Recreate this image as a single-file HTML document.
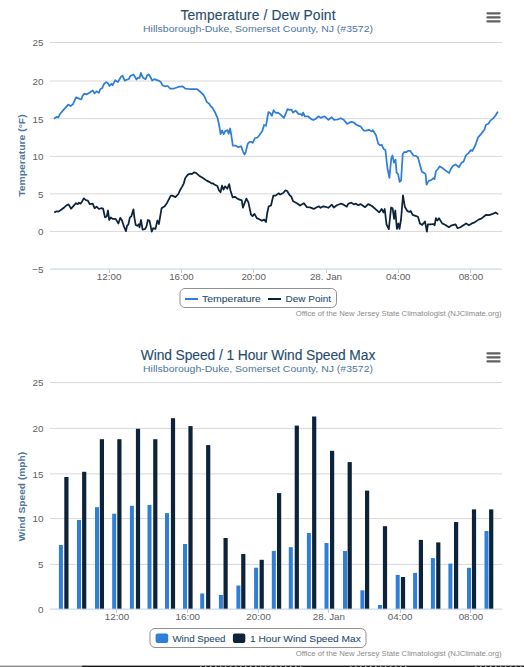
<!DOCTYPE html>
<html><head><meta charset="utf-8"><title>Charts</title>
<style>html,body{margin:0;padding:0;background:#fff;width:524px;height:667px;overflow:hidden}</style>
</head><body>
<svg width="524" height="667" viewBox="0 0 524 667" style="position:absolute;left:0;top:0;font-family:'Liberation Sans', sans-serif"><rect x="0" y="0" width="524" height="667" fill="#fff"/><text x="258" y="19.9" text-anchor="middle" font-size="13.8" fill="#274b6d" stroke="#274b6d" stroke-width="0.12" textLength="155" lengthAdjust="spacing">Temperature / Dew Point</text><text x="258" y="31.5" text-anchor="middle" font-size="9.7" fill="#4d759e" textLength="230" lengthAdjust="spacingAndGlyphs">Hillsborough-Duke, Somerset County, NJ (#3572)</text><path d="M487.5 13.3 L499.5 13.3" stroke="#606060" stroke-width="2.3" stroke-linecap="round"/><path d="M487.5 17.4 L499.5 17.4" stroke="#606060" stroke-width="2.3" stroke-linecap="round"/><path d="M487.5 21.4 L499.5 21.4" stroke="#606060" stroke-width="2.3" stroke-linecap="round"/><text x="501.7" y="315.9" text-anchor="end" font-size="7.9" fill="#8a8a8a" textLength="206" lengthAdjust="spacingAndGlyphs">Office of the New Jersey State Climatologist (NJClimate.org)</text><text x="258" y="359.9" text-anchor="middle" font-size="13.8" fill="#274b6d" stroke="#274b6d" stroke-width="0.12" textLength="234.6" lengthAdjust="spacing">Wind Speed / 1 Hour Wind Speed Max</text><text x="258" y="371.5" text-anchor="middle" font-size="9.7" fill="#4d759e" textLength="230" lengthAdjust="spacingAndGlyphs">Hillsborough-Duke, Somerset County, NJ (#3572)</text><path d="M487.5 353.3 L499.5 353.3" stroke="#606060" stroke-width="2.3" stroke-linecap="round"/><path d="M487.5 357.4 L499.5 357.4" stroke="#606060" stroke-width="2.3" stroke-linecap="round"/><path d="M487.5 361.4 L499.5 361.4" stroke="#606060" stroke-width="2.3" stroke-linecap="round"/><text x="501.7" y="655.9" text-anchor="end" font-size="7.9" fill="#8a8a8a" textLength="206" lengthAdjust="spacingAndGlyphs">Office of the New Jersey State Climatologist (NJClimate.org)</text><path d="M50 42.5 L502 42.5" stroke="#D8D8D8" stroke-width="1" fill="none"/><path d="M50 81.0 L502 81.0" stroke="#D8D8D8" stroke-width="1" fill="none"/><path d="M50 118.7 L502 118.7" stroke="#D8D8D8" stroke-width="1" fill="none"/><path d="M50 156.4 L502 156.4" stroke="#D8D8D8" stroke-width="1" fill="none"/><path d="M50 193.9 L502 193.9" stroke="#D8D8D8" stroke-width="1" fill="none"/><path d="M50 231.4 L502 231.4" stroke="#D8D8D8" stroke-width="1" fill="none"/><path d="M50 269.1 L502 269.1" stroke="#C0D0E0" stroke-width="1"/><text x="43.5" y="46.3" text-anchor="end" font-size="9.9" fill="#606060">25</text><text x="43.5" y="84.8" text-anchor="end" font-size="9.9" fill="#606060">20</text><text x="43.5" y="122.5" text-anchor="end" font-size="9.9" fill="#606060">15</text><text x="43.5" y="160.2" text-anchor="end" font-size="9.9" fill="#606060">10</text><text x="43.5" y="197.7" text-anchor="end" font-size="9.9" fill="#606060">5</text><text x="43.5" y="235.2" text-anchor="end" font-size="9.9" fill="#606060">0</text><text x="43.5" y="272.9" text-anchor="end" font-size="9.9" fill="#606060">−5</text><text transform="translate(24.8 155.6) rotate(-90)" text-anchor="middle" font-size="9.4" font-weight="bold" fill="#4d759e" textLength="82.5" lengthAdjust="spacingAndGlyphs">Temperature (°F)</text><path d="M109.5 269.5 L109.5 273" stroke="#C0D0E0" stroke-width="1"/><text x="109.1" y="280.2" text-anchor="middle" font-size="9.8" fill="#606060">12:00</text><path d="M181.5 269.5 L181.5 273" stroke="#C0D0E0" stroke-width="1"/><text x="181.4" y="280.2" text-anchor="middle" font-size="9.8" fill="#606060">16:00</text><path d="M253.5 269.5 L253.5 273" stroke="#C0D0E0" stroke-width="1"/><text x="253.7" y="280.2" text-anchor="middle" font-size="9.8" fill="#606060">20:00</text><path d="M326.5 269.5 L326.5 273" stroke="#C0D0E0" stroke-width="1"/><text x="326.0" y="280.2" text-anchor="middle" font-size="9.8" fill="#606060">28. Jan</text><path d="M398.5 269.5 L398.5 273" stroke="#C0D0E0" stroke-width="1"/><text x="398.3" y="280.2" text-anchor="middle" font-size="9.8" fill="#606060">04:00</text><path d="M470.5 269.5 L470.5 273" stroke="#C0D0E0" stroke-width="1"/><text x="470.9" y="280.2" text-anchor="middle" font-size="9.8" fill="#606060">08:00</text><path d="M54.6 118.3 L56.9 116.8 L58.4 117.3 L59.9 114.2 L63.7 109.6 L68.3 104.6 L70.6 106.1 L72.9 104.3 L76.0 97.4 L79.8 98.9 L81.3 99.4 L82.8 95.4 L84.4 93.6 L86.6 94.4 L89.7 92.4 L92.7 90.5 L94.6 93.3 L96.6 91.3 L98.9 92.8 L100.4 89.0 L102.2 88.2 L104.2 83.7 L106.2 82.1 L107.7 82.9 L109.5 86.0 L111.4 83.7 L112.6 85.2 L115.3 80.2 L117.9 82.1 L121.0 76.8 L122.5 75.7 L124.8 80.6 L127.3 79.5 L128.8 79.1 L130.3 76.0 L133.4 74.5 L134.9 76.8 L136.5 79.5 L138.0 77.6 L139.5 78.0 L141.0 73.0 L142.1 76.0 L143.3 78.0 L145.6 79.1 L147.1 75.3 L148.7 74.5 L150.2 76.5 L152.2 80.6 L154.3 79.1 L156.3 79.8 L158.6 80.6 L160.9 82.1 L162.4 85.2 L164.7 86.3 L167.7 86.0 L170.0 88.5 L173.9 88.5 L176.9 87.5 L179.2 86.7 L182.7 86.3 L185.3 88.7 L189.1 89.0 L192.2 89.0 L196.8 89.0 L199.8 91.3 L203.1 94.5 L204.6 96.8 L206.9 102.1 L209.2 103.7 L210.7 106.3 L212.2 107.5 L215.3 112.8 L217.6 118.2 L219.1 125.0 L220.6 134.2 L222.1 130.4 L223.7 134.2 L225.2 131.1 L227.5 130.1 L228.7 133.7 L230.1 128.5 L231.3 135.0 L232.8 145.6 L235.4 145.6 L238.2 147.2 L241.2 146.4 L243.1 151.8 L244.6 154.5 L245.8 151.8 L247.6 144.1 L249.6 141.8 L251.1 141.8 L252.7 142.9 L255.0 138.0 L257.3 137.7 L259.5 135.0 L262.3 131.1 L264.1 125.0 L266.0 125.8 L268.4 112.1 L269.9 112.8 L271.8 115.9 L273.6 110.2 L275.6 112.8 L278.1 112.6 L280.3 114.4 L283.9 117.9 L285.7 113.7 L287.5 109.1 L289.5 109.8 L291.5 109.5 L293.0 112.6 L295.6 110.6 L298.7 114.1 L301.0 114.1 L302.2 115.6 L303.2 112.6 L304.8 116.3 L307.8 116.3 L311.6 119.3 L313.5 119.9 L315.5 119.0 L318.5 116.3 L320.8 117.9 L324.6 116.3 L328.4 119.8 L331.8 117.2 L333.8 119.8 L337.6 119.5 L340.6 118.2 L343.7 119.8 L347.1 123.9 L349.8 122.4 L351.6 121.8 L353.8 122.5 L356.1 124.5 L358.4 125.6 L360.7 126.5 L363.7 130.6 L366.0 130.6 L369.1 129.8 L371.4 131.4 L372.9 130.2 L376.0 135.2 L378.2 143.6 L379.8 145.1 L381.8 144.8 L383.6 148.9 L385.4 150.0 L387.4 168.0 L389.4 177.9 L391.2 158.9 L392.4 155.5 L394.0 162.7 L395.5 159.6 L396.6 172.6 L398.1 174.1 L399.6 181.8 L401.1 180.5 L402.7 154.3 L404.2 152.0 L406.5 152.0 L408.0 150.9 L410.3 150.9 L413.4 155.5 L415.6 155.8 L417.9 157.3 L421.8 171.8 L424.0 172.9 L425.6 174.1 L426.5 184.7 L428.8 180.9 L431.1 180.2 L433.4 178.2 L434.5 179.1 L436.0 171.0 L438.0 169.0 L439.5 166.4 L441.8 167.5 L444.8 169.9 L449.1 173.0 L451.0 168.7 L452.8 166.0 L455.5 164.4 L458.9 167.2 L461.6 162.6 L463.5 161.8 L465.9 155.3 L468.5 153.1 L470.8 150.1 L472.3 151.1 L475.4 145.0 L478.1 137.4 L481.0 134.1 L484.5 129.5 L486.0 124.8 L488.4 123.7 L490.3 120.6 L492.9 118.6 L495.2 116.0 L497.5 112.2" stroke="#2f7ed8" stroke-width="1.75" fill="none" stroke-linejoin="round" stroke-linecap="round"/><path d="M54.9 212.1 L56.9 211.3 L58.4 211.6 L61.5 209.5 L64.5 207.2 L66.8 205.2 L68.6 204.4 L71.1 208.7 L72.9 206.7 L76.0 203.2 L77.8 204.1 L79.0 202.6 L80.5 203.7 L82.1 201.4 L83.9 198.3 L85.9 200.2 L87.9 200.6 L89.7 204.1 L92.7 203.7 L94.6 208.2 L96.6 206.7 L98.9 209.0 L101.1 208.2 L103.1 208.7 L105.0 217.4 L106.8 216.3 L108.0 210.5 L109.2 220.0 L110.8 217.4 L112.6 218.9 L115.6 218.9 L118.4 223.5 L120.2 217.9 L121.8 220.0 L124.0 226.6 L126.0 231.1 L127.0 225.8 L128.4 224.3 L129.9 217.4 L131.4 216.3 L133.4 209.3 L134.5 218.2 L135.7 225.0 L137.2 225.8 L138.7 224.3 L139.5 227.3 L141.0 220.0 L142.6 229.6 L144.8 229.2 L146.4 226.6 L147.9 220.0 L149.4 220.5 L150.6 225.8 L151.7 231.6 L153.2 228.1 L155.5 228.9 L157.4 220.5 L158.9 224.0 L161.6 208.2 L164.7 206.3 L167.0 202.9 L170.8 195.6 L172.3 195.6 L175.4 197.1 L178.4 194.0 L180.0 190.2 L182.3 186.4 L183.8 183.3 L185.3 178.0 L187.6 174.9 L189.9 173.7 L191.9 174.2 L194.0 172.3 L196.0 172.9 L199.1 175.7 L202.9 178.0 L206.7 180.6 L209.8 182.1 L211.3 183.3 L212.8 183.3 L214.4 184.5 L217.4 186.1 L218.9 190.2 L220.5 192.2 L222.0 185.6 L223.5 189.7 L225.0 186.4 L227.3 188.7 L229.2 184.1 L230.4 190.2 L232.7 197.4 L235.0 196.8 L237.7 198.9 L240.3 199.8 L241.8 200.4 L242.9 207.7 L244.9 202.4 L246.4 198.6 L248.4 202.4 L251.0 214.6 L252.5 216.1 L254.5 213.9 L256.8 218.1 L259.3 219.3 L261.9 220.8 L264.2 219.6 L266.0 222.0 L267.2 213.2 L268.7 206.3 L271.0 205.5 L273.3 195.6 L275.6 195.6 L278.7 193.3 L280.2 194.5 L283.2 193.0 L285.5 190.3 L287.1 191.0 L289.4 194.8 L291.3 196.7 L293.2 201.3 L295.0 202.2 L297.0 203.2 L300.0 205.5 L303.9 203.2 L306.9 207.1 L310.0 207.4 L313.8 208.9 L317.6 206.8 L319.1 206.3 L320.6 207.8 L323.4 206.3 L325.5 206.8 L328.3 207.8 L331.8 204.7 L333.8 207.5 L336.9 205.2 L340.7 203.7 L343.7 204.7 L346.8 206.7 L348.3 203.7 L351.4 202.6 L353.7 204.4 L356.0 203.7 L358.2 205.2 L360.5 204.1 L365.1 207.2 L368.2 204.1 L372.0 206.0 L375.8 209.3 L379.2 212.4 L381.6 209.0 L383.4 212.4 L384.7 209.0 L386.5 224.3 L388.8 229.2 L391.1 207.5 L392.6 208.2 L394.1 218.9 L395.3 210.5 L396.9 228.9 L398.4 223.5 L399.5 228.9 L401.0 219.7 L403.0 195.3 L404.8 206.7 L407.3 211.0 L409.2 211.9 L410.7 211.0 L412.6 214.8 L415.5 215.8 L418.0 216.7 L419.9 223.4 L422.2 224.9 L425.0 221.5 L426.9 231.6 L427.9 224.4 L430.8 224.4 L433.6 224.0 L434.6 225.3 L435.9 218.2 L437.4 220.5 L439.0 218.2 L442.2 223.4 L445.1 224.7 L448.9 227.2 L451.8 225.3 L455.6 224.4 L457.5 228.2 L460.3 227.2 L462.3 225.9 L466.1 223.4 L468.9 225.3 L471.8 223.4 L474.7 222.4 L478.5 219.6 L481.3 218.6 L486.1 214.8 L489.0 215.2 L492.8 213.9 L495.6 212.5 L497.6 213.9" stroke="#0d233a" stroke-width="1.75" fill="none" stroke-linejoin="round" stroke-linecap="round"/><rect x="180" y="288.5" width="156.5" height="19" rx="5" ry="5" fill="#fff" stroke="#909090" stroke-width="1"/><path d="M185 299 L198 299" stroke="#2f7ed8" stroke-width="2"/><text x="202" y="302" font-size="9.7" fill="#274b6d" stroke="#274b6d" stroke-width="0.08" textLength="58.8" lengthAdjust="spacingAndGlyphs">Temperature</text><path d="M268 299 L281 299" stroke="#0d233a" stroke-width="2"/><text x="285.6" y="302" font-size="9.7" fill="#274b6d" stroke="#274b6d" stroke-width="0.08" textLength="45.4" lengthAdjust="spacingAndGlyphs">Dew Point</text><path d="M50 382.6 L502 382.6" stroke="#D8D8D8" stroke-width="1" fill="none"/><path d="M50 428.4 L502 428.4" stroke="#D8D8D8" stroke-width="1" fill="none"/><path d="M50 473.9 L502 473.9" stroke="#D8D8D8" stroke-width="1" fill="none"/><path d="M50 518.6 L502 518.6" stroke="#D8D8D8" stroke-width="1" fill="none"/><path d="M50 564.4 L502 564.4" stroke="#D8D8D8" stroke-width="1" fill="none"/><text x="43.5" y="386.4" text-anchor="end" font-size="9.9" fill="#606060">25</text><text x="43.5" y="432.2" text-anchor="end" font-size="9.9" fill="#606060">20</text><text x="43.5" y="477.7" text-anchor="end" font-size="9.9" fill="#606060">15</text><text x="43.5" y="522.4" text-anchor="end" font-size="9.9" fill="#606060">10</text><text x="43.5" y="568.2" text-anchor="end" font-size="9.9" fill="#606060">5</text><text x="43.5" y="612.8" text-anchor="end" font-size="9.9" fill="#606060">0</text><text transform="translate(24.8 496.5) rotate(-90)" text-anchor="middle" font-size="9.4" font-weight="bold" fill="#4d759e" textLength="89.3" lengthAdjust="spacingAndGlyphs">Wind Speed (mph)</text><rect x="58.9" y="545.0" width="4" height="64.1" fill="#2f7ed8"/><rect x="64.3" y="477.0" width="4.2" height="132.1" fill="#0d233a"/><rect x="77.0" y="520.0" width="4" height="89.1" fill="#2f7ed8"/><rect x="82.1" y="471.8" width="4.2" height="137.3" fill="#0d233a"/><rect x="95.0" y="507.2" width="4" height="101.9" fill="#2f7ed8"/><rect x="99.8" y="439.2" width="4.2" height="169.9" fill="#0d233a"/><rect x="112.2" y="513.7" width="4" height="95.4" fill="#2f7ed8"/><rect x="117.3" y="439.2" width="4.2" height="169.9" fill="#0d233a"/><rect x="129.9" y="505.8" width="4" height="103.3" fill="#2f7ed8"/><rect x="135.9" y="428.8" width="4.2" height="180.3" fill="#0d233a"/><rect x="147.5" y="504.9" width="4" height="104.2" fill="#2f7ed8"/><rect x="153.2" y="439.2" width="4.2" height="169.9" fill="#0d233a"/><rect x="165.0" y="513.1" width="4" height="96.0" fill="#2f7ed8"/><rect x="170.9" y="418.2" width="4.2" height="190.9" fill="#0d233a"/><rect x="183.0" y="544.0" width="4" height="65.1" fill="#2f7ed8"/><rect x="188.4" y="426.1" width="4.2" height="183.0" fill="#0d233a"/><rect x="200.2" y="593.5" width="4" height="15.6" fill="#2f7ed8"/><rect x="206.1" y="445.1" width="4.2" height="164.0" fill="#0d233a"/><rect x="218.9" y="595.0" width="4" height="14.1" fill="#2f7ed8"/><rect x="223.5" y="538.0" width="4.2" height="71.1" fill="#0d233a"/><rect x="236.4" y="585.5" width="4" height="23.6" fill="#2f7ed8"/><rect x="241.2" y="554.0" width="4.2" height="55.1" fill="#0d233a"/><rect x="254.1" y="567.7" width="4" height="41.4" fill="#2f7ed8"/><rect x="259.6" y="559.8" width="4.2" height="49.3" fill="#0d233a"/><rect x="271.8" y="550.9" width="4" height="58.2" fill="#2f7ed8"/><rect x="277.0" y="493.1" width="4.2" height="116.0" fill="#0d233a"/><rect x="288.8" y="547.2" width="4" height="61.9" fill="#2f7ed8"/><rect x="294.7" y="425.6" width="4.2" height="183.5" fill="#0d233a"/><rect x="306.9" y="533.0" width="4" height="76.1" fill="#2f7ed8"/><rect x="312.1" y="416.5" width="4.2" height="192.6" fill="#0d233a"/><rect x="324.5" y="543.0" width="4" height="66.1" fill="#2f7ed8"/><rect x="330.0" y="450.8" width="4.2" height="158.3" fill="#0d233a"/><rect x="343.0" y="551.0" width="4" height="58.1" fill="#2f7ed8"/><rect x="347.6" y="462.1" width="4.2" height="147.0" fill="#0d233a"/><rect x="360.4" y="590.3" width="4" height="18.8" fill="#2f7ed8"/><rect x="365.0" y="490.6" width="4.2" height="118.5" fill="#0d233a"/><rect x="378.0" y="605.0" width="4" height="4.1" fill="#2f7ed8"/><rect x="382.9" y="526.2" width="4.2" height="82.9" fill="#0d233a"/><rect x="395.7" y="574.9" width="4" height="34.2" fill="#2f7ed8"/><rect x="400.9" y="577.0" width="4.2" height="32.1" fill="#0d233a"/><rect x="413.1" y="572.9" width="4" height="36.2" fill="#2f7ed8"/><rect x="418.8" y="539.9" width="4.2" height="69.2" fill="#0d233a"/><rect x="430.9" y="558.1" width="4" height="51.0" fill="#2f7ed8"/><rect x="436.2" y="542.4" width="4.2" height="66.7" fill="#0d233a"/><rect x="448.4" y="563.6" width="4" height="45.5" fill="#2f7ed8"/><rect x="454.0" y="522.0" width="4.2" height="87.1" fill="#0d233a"/><rect x="467.0" y="567.8" width="4" height="41.3" fill="#2f7ed8"/><rect x="471.9" y="509.4" width="4.2" height="99.7" fill="#0d233a"/><rect x="484.5" y="531.0" width="4" height="78.1" fill="#2f7ed8"/><rect x="489.1" y="509.4" width="4.2" height="99.7" fill="#0d233a"/><path d="M50 609.1 L502 609.1" stroke="#C0D0E0" stroke-width="1"/><path d="M116.5 609.5 L116.5 613" stroke="#C0D0E0" stroke-width="1"/><text x="117.0" y="620.2" text-anchor="middle" font-size="9.8" fill="#606060">12:00</text><path d="M187.5 609.5 L187.5 613" stroke="#C0D0E0" stroke-width="1"/><text x="187.8" y="620.2" text-anchor="middle" font-size="9.8" fill="#606060">16:00</text><path d="M258.5 609.5 L258.5 613" stroke="#C0D0E0" stroke-width="1"/><text x="258.6" y="620.2" text-anchor="middle" font-size="9.8" fill="#606060">20:00</text><path d="M328.5 609.5 L328.5 613" stroke="#C0D0E0" stroke-width="1"/><text x="328.9" y="620.2" text-anchor="middle" font-size="9.8" fill="#606060">28. Jan</text><path d="M400.5 609.5 L400.5 613" stroke="#C0D0E0" stroke-width="1"/><text x="400.1" y="620.2" text-anchor="middle" font-size="9.8" fill="#606060">04:00</text><path d="M470.5 609.5 L470.5 613" stroke="#C0D0E0" stroke-width="1"/><text x="470.9" y="620.2" text-anchor="middle" font-size="9.8" fill="#606060">08:00</text><rect x="150" y="628.5" width="216" height="19" rx="5" ry="5" fill="#fff" stroke="#909090" stroke-width="1"/><rect x="155.6" y="633.5" width="12.6" height="9.6" rx="2" fill="#2f7ed8"/><text x="172.4" y="642" font-size="9.7" fill="#274b6d" stroke="#274b6d" stroke-width="0.08" textLength="53.1" lengthAdjust="spacingAndGlyphs">Wind Speed</text><rect x="232.9" y="633.5" width="12.4" height="9.6" rx="2" fill="#0d233a"/><text x="250" y="642" font-size="9.7" fill="#274b6d" stroke="#274b6d" stroke-width="0.08" textLength="110.8" lengthAdjust="spacingAndGlyphs">1 Hour Wind Speed Max</text><rect x="0" y="665.6" width="82" height="1.4" fill="#8c8c8c"/><rect x="82" y="665.6" width="442" height="1.4" fill="#161616"/><path d="M200 666.3 L303 666.3" stroke="#9a9a9a" stroke-width="1.4" stroke-dasharray="1.5 3.5"/><path d="M350 666.3 L410 666.3" stroke="#9a9a9a" stroke-width="1.4" stroke-dasharray="1.5 3.5"/><path d="M475 666.3 L524 666.3" stroke="#9a9a9a" stroke-width="1.4" stroke-dasharray="1.5 3.5"/></svg>
</body></html>
